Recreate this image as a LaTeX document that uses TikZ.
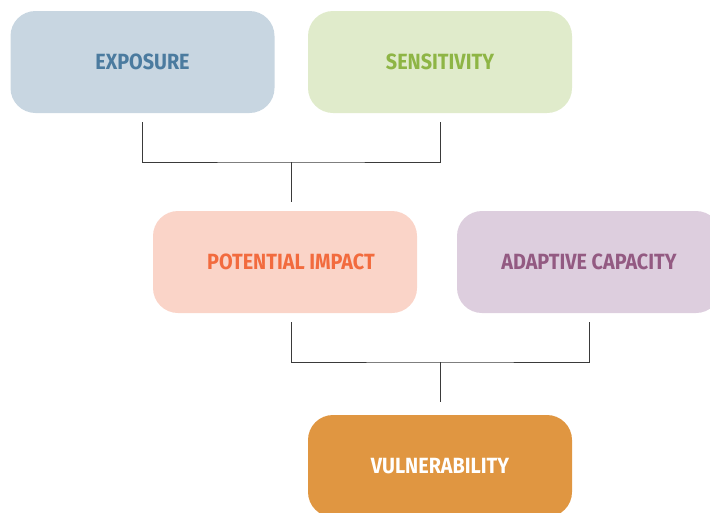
\documentclass[tikz,border=0pt]{standalone}
\usepackage{fontspec}
\setmainfont{Fira Sans}[FakeStretch=0.9]
\definecolor{expfill}{HTML}{C8D6E1}
\definecolor{exptext}{HTML}{4B7B9F}
\definecolor{senfill}{HTML}{E0EBCB}
\definecolor{sentext}{HTML}{8EB545}
\definecolor{potfill}{HTML}{FAD4C8}
\definecolor{pottext}{HTML}{F26B3E}
\definecolor{adafill}{HTML}{DDCEDE}
\definecolor{adatext}{HTML}{935A82}
\definecolor{vulfill}{HTML}{E09641}
\definecolor{linec}{HTML}{3A3A3A}
\begin{document}
\begin{tikzpicture}[x=1pt,y=-1pt,
  box/.style={rectangle,rounded corners=25pt,minimum width=264pt,minimum height=102pt,inner sep=0pt,font=\bfseries\fontsize{22}{26}\selectfont},
  link/.style={draw=linec,line width=1pt}]
\useasboundingbox (0,0) rectangle (710,512);
\begin{scope}
\clip (0,0) rectangle (710,512);
\node[box,fill=expfill,text=exptext] (exp) at (142.5,62) {EXPOSURE};
\node[box,fill=senfill,text=sentext] (sen) at (440,62) {SENSITIVITY};
\node[box,fill=potfill,text=pottext] (pot) at (285,262) {\hspace*{12pt}POTENTIAL IMPACT};
\node[box,fill=adafill,text=adatext] (ada) at (589,262) {ADAPTIVE CAPACITY};
\node[box,fill=vulfill,text=white] (vul) at (440,466) {VULNERABILITY};
\end{scope}
\coordinate (j1) at (291,162);
\coordinate (j2) at (440,362);
\draw[link] ([yshift=-9pt]exp.south) |- (j1) -| ([yshift=-9pt]sen.south);
\draw[link] (j1) -- ([xshift=6pt,yshift=9pt]pot.north);
\draw[link] ([xshift=6pt,yshift=-9pt]pot.south) |- (j2) -| ([yshift=-9pt]ada.south);
\draw[link] (j2) -- ([yshift=13pt]vul.north);
\end{tikzpicture}
\end{document}
